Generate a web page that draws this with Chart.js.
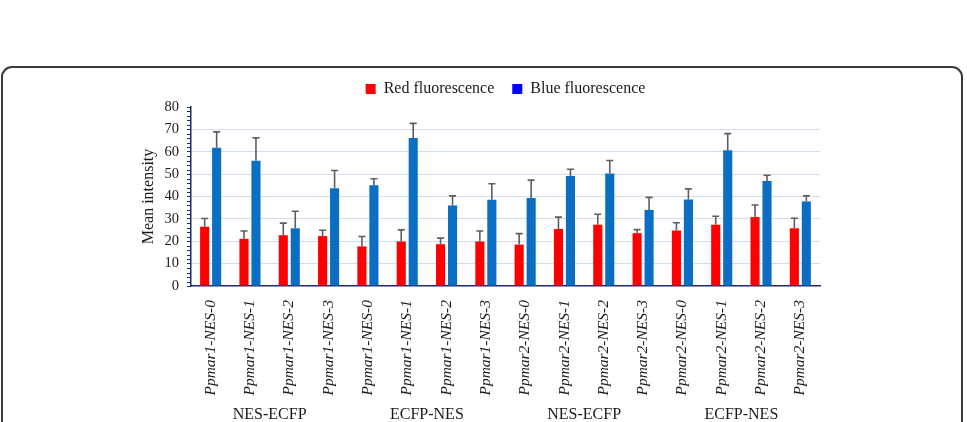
<!DOCTYPE html>
<html>
<head>
<meta charset="utf-8">
<script src="https://cdn.jsdelivr.net/npm/chart.js@4.4.1/dist/chart.umd.min.js"></script>
<style>
  html, body { margin: 0; padding: 0; background: #ffffff; }
  #frame { position: absolute; left: 1px; top: 66px; width: 958px; height: 420px;
           border: 2px solid #3a3a3a; border-radius: 11px; }
  #wrap { position: absolute; left: 0; top: 0; width: 967px; height: 422px; }
</style>
</head>
<body>
<div id="frame"></div>
<div id="wrap"><canvas id="c" width="967" height="422"></canvas></div>
<script>
const categories = [
  'Ppmar1-NES-0','Ppmar1-NES-1','Ppmar1-NES-2','Ppmar1-NES-3',
  'Ppmar1-NES-0','Ppmar1-NES-1','Ppmar1-NES-2','Ppmar1-NES-3',
  'Ppmar2-NES-0','Ppmar2-NES-1','Ppmar2-NES-2','Ppmar2-NES-3',
  'Ppmar2-NES-0','Ppmar2-NES-1','Ppmar2-NES-2','Ppmar2-NES-3'
];
const groupLabels = ['NES-ECFP','ECFP-NES','NES-ECFP','ECFP-NES'];
const redValues  = [26.5,21.1,22.7,22.3,17.7,19.9,18.7,19.9,18.5,25.5,27.4,23.6,24.8,27.4,30.8,25.8];
const redErrors  = [3.7,3.5,5.4,2.6,4.4,5.2,2.7,4.7,4.9,5.3,4.7,1.6,3.5,3.8,5.4,4.5];
const blueValues = [61.8,56.0,25.8,43.7,45.0,66.1,36.0,38.5,39.3,49.2,50.3,34.0,38.7,60.7,46.9,37.8];
const blueErrors = [7.1,10.2,7.6,7.9,2.9,6.6,4.3,7.2,8.0,3.0,5.8,5.6,4.7,7.4,2.6,2.5];
const yMin = 0, yMax = 80, yStep = 10, yMinorStep = 2;

const SERIF = '"Liberation Serif", "Times New Roman", serif';
const AXIS_COLOR = '#1f2a6e';

const errorBarPlugin = {
  id: 'errorBars',
  afterDatasetsDraw(chart) {
    const ctx = chart.ctx;
    const yScale = chart.scales.y;
    chart.data.datasets.forEach((ds, i) => {
      const meta = chart.getDatasetMeta(i);
      meta.data.forEach((el, j) => {
        const top = yScale.getPixelForValue(ds.data[j] + ds.errors[j]);
        ctx.save();
        ctx.strokeStyle = '#5e5e5e';
        ctx.lineWidth = 1.6;
        ctx.beginPath();
        ctx.moveTo(el.x, el.y);
        ctx.lineTo(el.x, top);
        ctx.moveTo(el.x - 3.5, top);
        ctx.lineTo(el.x + 3.5, top);
        ctx.stroke();
        ctx.restore();
      });
    });
  }
};

const minorTickPlugin = {
  id: 'minorTicks',
  afterDraw(chart) {
    const ctx = chart.ctx;
    const y = chart.scales.y;
    const x0 = chart.chartArea.left;
    ctx.save();
    ctx.strokeStyle = AXIS_COLOR;
    ctx.lineWidth = 1;
    for (let v = yMin; v <= yMax; v += yMinorStep) {
      if (v % yStep === 0) continue;
      const py = Math.round(y.getPixelForValue(v)) + 0.5;
      ctx.beginPath();
      ctx.moveTo(x0 - 4, py);
      ctx.lineTo(x0, py);
      ctx.stroke();
    }
    ctx.restore();
  }
};

new Chart(document.getElementById('c'), {
  type: 'bar',
  data: {
    labels: categories,
    datasets: [
      { label: 'Red fluorescence', data: redValues, errors: redErrors,
        backgroundColor: '#ff0000', xAxisID: 'x', yAxisID: 'y' },
      { label: 'Blue fluorescence', data: blueValues, errors: blueErrors,
        backgroundColor: '#0a6fc2', xAxisID: 'x', yAxisID: 'y' }
    ]
  },
  options: {
    responsive: false,
    animation: false,
    devicePixelRatio: 1,
    categoryPercentage: 0.61,
    barPercentage: 0.76,
    layout: { padding: { left: 137, right: 147, top: 63, bottom: 0 } },
    plugins: {
      legend: {
        position: 'top',
        fullSize: false,
        labels: {
          font: { family: SERIF, size: 16 },
          color: '#1a1a1a',
          boxWidth: 10,
          boxHeight: 10,
          padding: 18,
          generateLabels(chart) {
            const cols = ['#ff0000', '#0000ff'];
            return chart.data.datasets.map((ds, i) => ({
              text: ds.label, fillStyle: cols[i], strokeStyle: cols[i],
              lineWidth: 0, datasetIndex: i, fontColor: '#1a1a1a'
            }));
          }
        }
      },
      tooltip: { enabled: false }
    },
    scales: {
      x: {
        type: 'category',
        position: 'bottom',
        grid: { display: false, drawTicks: false },
        border: { display: true, color: AXIS_COLOR, width: 1.5 },
        ticks: {
          font: { family: SERIF, size: 15.5, style: 'italic' },
          color: '#1a1a1a',
          minRotation: 90, maxRotation: 90,
          padding: 14,
          autoSkip: false
        },
        afterFit(scale) { scale.height = 117; }
      },
      x2: {
        type: 'category',
        position: 'bottom',
        labels: groupLabels,
        offset: true,
        grid: { display: false, drawTicks: false },
        border: { display: false },
        ticks: { font: { family: SERIF, size: 16 }, color: '#1a1a1a', padding: 2, autoSkip: false, maxRotation: 0 },
        afterFit(scale) { scale.height = 19; }
      },
      y: {
        min: yMin, max: yMax,
        ticks: {
          stepSize: yStep,
          font: { family: SERIF, size: 14.5 },
          color: '#1a1a1a',
          padding: 8
        },
        grid: {
          color: (c) => (c.tick && (c.tick.value === yMax || c.tick.value === yMin)) ? 'rgba(0,0,0,0)' : '#d3deec',
          tickColor: AXIS_COLOR,
          tickLength: 4,
          lineWidth: 1
        },
        border: { display: true, color: AXIS_COLOR, width: 1.5 },
        title: {
          display: true,
          text: 'Mean intensity',
          font: { family: SERIF, size: 16 },
          color: '#1a1a1a',
          padding: { top: 2, bottom: 0 }
        },
        afterFit(scale) { scale.width = 54; }
      }
    }
  },
  plugins: [errorBarPlugin, minorTickPlugin]
});
</script>
</body>
</html>
